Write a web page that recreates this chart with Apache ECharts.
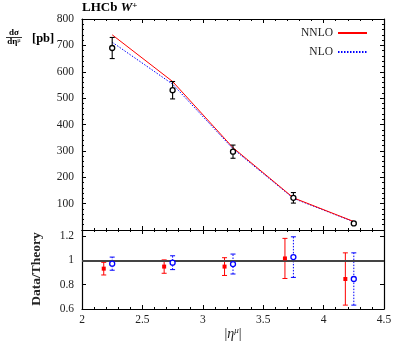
<!DOCTYPE html>
<html>
<head>
<meta charset="utf-8">
<script src="https://cdn.jsdelivr.net/npm/echarts@6/dist/echarts.min.js"></script>
<style>
html,body{margin:0;padding:0;background:#fff;}
#chart{width:395px;height:343px;}
</style>
</head>
<body>
<div id="chart"></div>
<script>
// ---- data ----
const etaBins = [2.25, 2.75, 3.25, 3.75, 4.25];
const dataXsec = [690, 530, 297, 122, 25];
const dataErr = [40, 33, 25, 20, 4];
const nnloXsec = [740, 563, 312, 122, 32];
const nloXsec = [712, 553, 308, 120, 31];
const ratioNNLOEta = [2.18, 2.68, 3.18, 3.68, 4.18];
const ratioNNLO = [0.932, 0.949, 0.949, 1.016, 0.847];
const ratioNNLOErr = [0.052, 0.055, 0.073, 0.165, 0.215];
const ratioNLOEta = [2.25, 2.75, 3.25, 3.75, 4.25];
const ratioNLO = [0.973, 0.981, 0.970, 1.027, 0.847];
const ratioNLOErr = [0.054, 0.057, 0.082, 0.167, 0.215];
const mainYTicks = [100, 200, 300, 400, 500, 600, 700, 800];
const ratioYTicks = [0.6, 0.8, 1, 1.2];

const SERIF = "'Liberation Serif', 'DejaVu Serif', serif";
const RED = '#ff0000', BLUE = '#0000ff';

function errData(xs, ys, es) {
  return xs.map((x, i) => [x, ys[i], ys[i] - es[i], ys[i] + es[i]]);
}
function errRender(color, dash, width) {
  return function (params, api) {
    const x = api.value(0);
    const p1 = api.coord([x, api.value(2)]);
    const p2 = api.coord([x, api.value(3)]);
    const cap = 2.5;
    const st = { stroke: color, lineWidth: width, lineDash: dash };
    return {
      type: 'group',
      children: [
        { type: 'line', shape: { x1: p1[0], y1: p1[1], x2: p2[0], y2: p2[1] }, style: st },
        { type: 'line', shape: { x1: p1[0] - cap, y1: p1[1], x2: p1[0] + cap, y2: p1[1] }, style: { stroke: color, lineWidth: width } },
        { type: 'line', shape: { x1: p2[0] - cap, y1: p2[1], x2: p2[0] + cap, y2: p2[1] }, style: { stroke: color, lineWidth: width } }
      ]
    };
  };
}

const axisLine = { show: true, onZero: false, lineStyle: { color: '#000', width: 1.2 } };
function xAx(grid, pos, labels) {
  return {
    type: 'value', gridIndex: grid, position: pos, min: 2, max: 4.5, interval: 0.5,
    axisLine: axisLine,
    axisTick: { show: true, inside: true, length: 4, lineStyle: { color: '#000' } },
    minorTick: { show: true, splitNumber: 5, length: 2, lineStyle: { color: '#000' } },
    splitLine: { show: false },
    axisLabel: labels ? { show: true, margin: 5, fontFamily: SERIF, fontSize: 11.5, color: '#222',
      formatter: v => String(+v.toFixed(2)) } : { show: false }
  };
}
function yAx(grid, pos, min, max, interval, minorSplit, ticks, labels) {
  return {
    type: 'value', gridIndex: grid, position: pos, min: min, max: max, interval: interval,
    axisLine: axisLine,
    axisTick: { show: true, inside: true, length: 4, lineStyle: { color: '#000' } },
    minorTick: { show: minorSplit > 0, splitNumber: minorSplit || 5, length: 2, lineStyle: { color: '#000' } },
    splitLine: { show: false },
    axisLabel: labels ? { show: true, margin: 8, fontFamily: SERIF, fontSize: 11.5, color: '#222',
      formatter: v => {
        const r = +v.toFixed(3);
        return ticks.some(t => Math.abs(t - r) < 1e-6) ? String(r) : '';
      } } : { show: false }
  };
}

const chart = echarts.init(document.getElementById('chart'), null, { renderer: 'canvas' });
chart.setOption({
  animation: false,
  backgroundColor: '#fff',
  grid: [
    { left: 82, right: 11, top: 19, height: 211 },
    { left: 82, right: 11, top: 230, height: 79 }
  ],
  legend: {
    orient: 'vertical', right: 22, top: 22, align: 'right',
    itemWidth: 29, itemHeight: 8, itemGap: 7,
    itemStyle: { opacity: 0 },
    textStyle: { fontFamily: SERIF, fontSize: 11.5, color: '#222' },
    data: ['NNLO', 'NLO']
  },
  xAxis: [xAx(0, 'bottom', false), xAx(0, 'top', false), xAx(1, 'bottom', true), xAx(1, 'top', false)],
  yAxis: [
    yAx(0, 'left', 0, 800, 100, 5, mainYTicks, true),
    yAx(0, 'right', 0, 800, 100, 5, mainYTicks, false),
    yAx(1, 'left', 0.6, 1.25, 0.2, 0, ratioYTicks, true),
    yAx(1, 'right', 0.6, 1.25, 0.2, 0, ratioYTicks, false)
  ],
  series: [
    {
      name: 'NNLO', type: 'line', xAxisIndex: 0, yAxisIndex: 0, symbol: 'none', showSymbol: false,
      lineStyle: { color: RED, width: 1 }, itemStyle: { color: RED },
      data: etaBins.map((x, i) => [x, nnloXsec[i]]), z: 3
    },
    {
      name: 'NLO', type: 'line', xAxisIndex: 0, yAxisIndex: 0, symbol: 'none', showSymbol: false,
      lineStyle: { color: BLUE, width: 1, type: [1.5, 1.5] }, itemStyle: { color: BLUE },
      data: etaBins.map((x, i) => [x, nloXsec[i]]), z: 2
    },
    {
      type: 'custom', xAxisIndex: 0, yAxisIndex: 0, renderItem: errRender('#000', null, 1.1),
      data: errData(etaBins, dataXsec, dataErr), z: 4
    },
    {
      type: 'scatter', xAxisIndex: 0, yAxisIndex: 0, symbol: 'circle', symbolSize: 5,
      itemStyle: { color: '#ffffff', borderColor: '#000', borderWidth: 1.3, opacity: 1 },
      data: etaBins.map((x, i) => [x, dataXsec[i]]), z: 5
    },
    {
      type: 'custom', xAxisIndex: 2, yAxisIndex: 2, renderItem: errRender(RED, null, 1),
      data: errData(ratioNNLOEta, ratioNNLO, ratioNNLOErr), z: 4
    },
    {
      type: 'scatter', xAxisIndex: 2, yAxisIndex: 2, symbol: 'rect', symbolSize: 4,
      itemStyle: { color: RED, opacity: 1 },
      data: ratioNNLOEta.map((x, i) => [x, ratioNNLO[i]]), z: 5,
      markLine: {
        silent: true, symbol: 'none', label: { show: false },
        lineStyle: { color: '#444', width: 2, type: 'solid' },
        data: [{ yAxis: 1 }]
      }
    },
    {
      type: 'custom', xAxisIndex: 2, yAxisIndex: 2, renderItem: errRender(BLUE, [1.5, 1.5], 1),
      data: errData(ratioNLOEta, ratioNLO, ratioNLOErr), z: 4
    },
    {
      type: 'scatter', xAxisIndex: 2, yAxisIndex: 2, symbol: 'circle', symbolSize: 5,
      itemStyle: { color: '#ffffff', borderColor: BLUE, borderWidth: 1.3, opacity: 1 },
      data: ratioNLOEta.map((x, i) => [x, ratioNLO[i]]), z: 5
    }
  ],
  graphic: [
    {
      type: 'text', x: 82, y: 8,
      style: {
        text: '{a|LHCb }{b|W}{c|+}', verticalAlign: 'middle', align: 'left',
        rich: {
          a: { fontFamily: SERIF, fontSize: 13, fontWeight: 'bold', fill: '#000' },
          b: { fontFamily: SERIF, fontSize: 13, fontWeight: 'bold', fontStyle: 'italic', fill: '#000' },
          c: { fontFamily: SERIF, fontSize: 9, fontWeight: 'bold', fill: '#000', verticalAlign: 'top', padding: [0, 0, 5, 0] }
        }
      }
    },
    {
      type: 'text', x: 14, y: 33,
      style: { text: 'dσ', font: "bold 9px " + SERIF, fill: '#000', align: 'center', verticalAlign: 'middle' }
    },
    {
      type: 'line', shape: { x1: 6, y1: 37.5, x2: 22, y2: 37.5 }, style: { stroke: '#000', lineWidth: 0.8 }
    },
    {
      type: 'text', x: 14, y: 42,
      style: {
        text: '{a|dη}{b|μ}', align: 'center', verticalAlign: 'middle',
        rich: {
          a: { fontFamily: SERIF, fontSize: 9, fontWeight: 'bold', fill: '#000' },
          b: { fontFamily: SERIF, fontSize: 6.5, fill: '#000', verticalAlign: 'top', padding: [0, 0, 3, 0] }
        }
      }
    },
    {
      type: 'text', x: 32, y: 39,
      style: { text: '[pb]', font: "bold 12.5px " + SERIF, fill: '#000', align: 'left', verticalAlign: 'middle' }
    },
    {
      type: 'text', x: 37, y: 269, rotation: Math.PI / 2,
      style: { text: 'Data/Theory', font: "bold 13.5px " + SERIF, fill: '#222', align: 'center', verticalAlign: 'middle' }
    },
    {
      type: 'text', x: 233, y: 334,
      style: {
        text: '{a||}{b|η}{c|μ}{a||}', align: 'center', verticalAlign: 'middle',
        rich: {
          a: { fontFamily: SERIF, fontSize: 14, fill: '#222' },
          b: { fontFamily: SERIF, fontSize: 14, fontStyle: 'italic', fill: '#222' },
          c: { fontFamily: SERIF, fontSize: 9, fontStyle: 'italic', fill: '#222', verticalAlign: 'top', padding: [0, 0, 6, 0] }
        }
      }
    }
  ]
});
</script>
</body>
</html>
